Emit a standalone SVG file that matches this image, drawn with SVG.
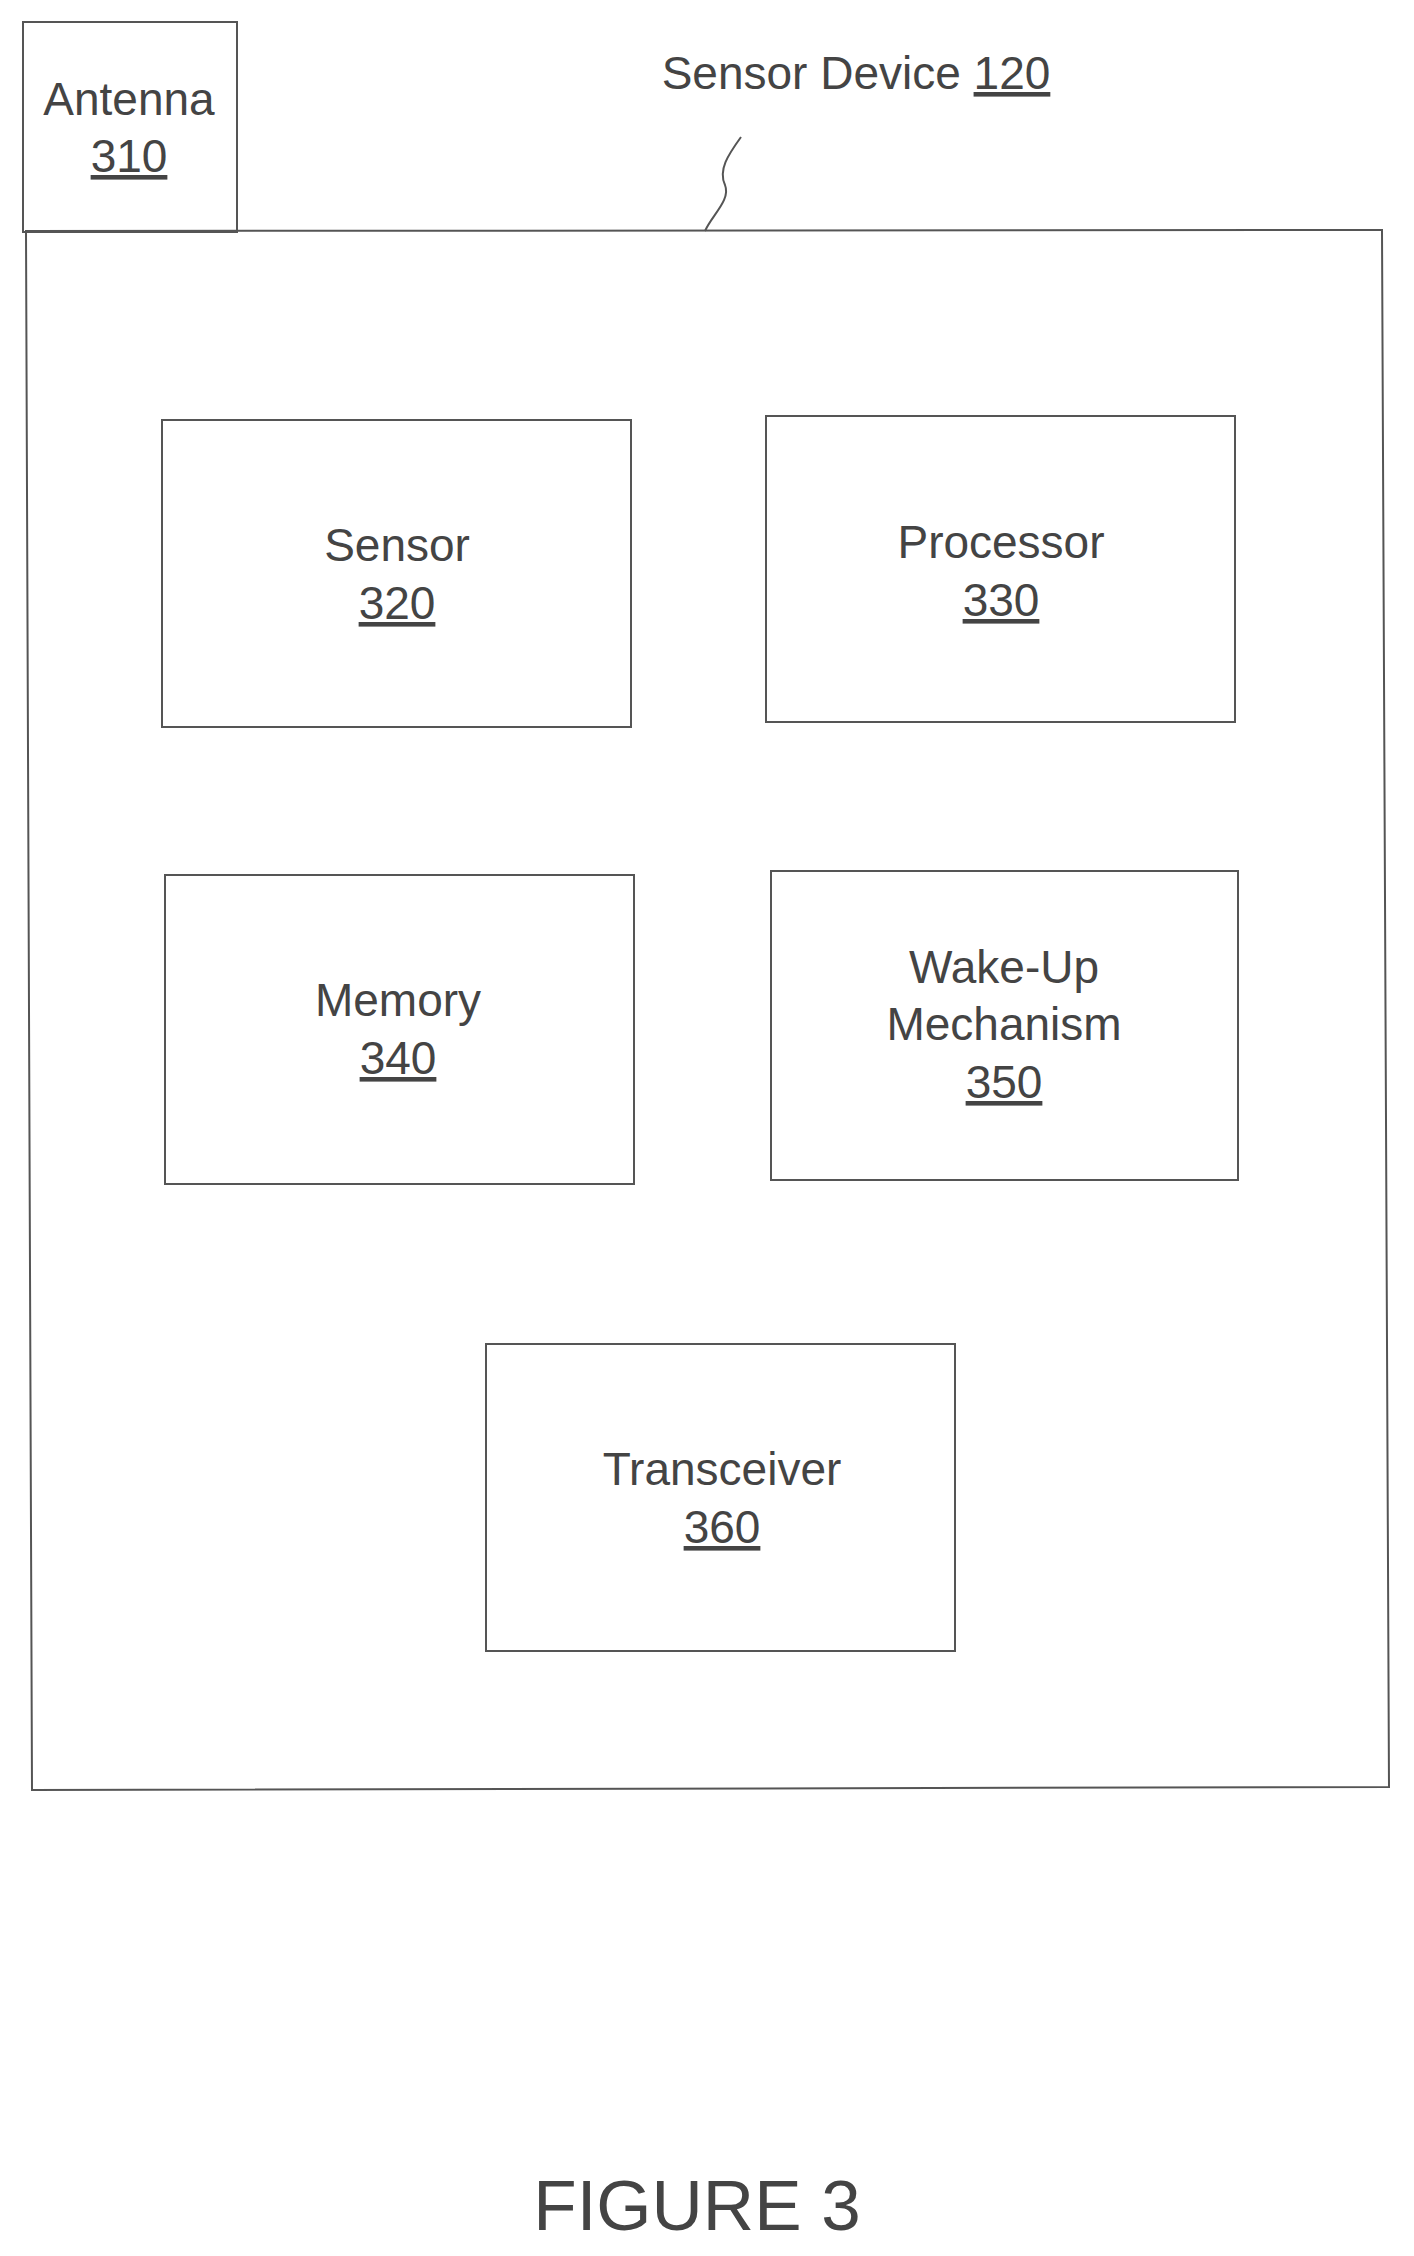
<svg xmlns="http://www.w3.org/2000/svg" width="1414" height="2256" viewBox="0 0 1414 2256">
<style>
rect{fill:none;stroke:#555;stroke-width:2}
text{font-family:"Liberation Sans",Arial,sans-serif;font-size:46px;fill:#444;text-anchor:middle}
.u{text-decoration:underline}
</style>
<rect width="1414" height="2256" style="fill:#fff;stroke:none"/>
<g id="connectors"><path d="M741,137 C728,155 718,170 725,185 C731,200 712,215 705,231" fill="none" stroke="#555" stroke-width="2"/></g>
<g id="device"><path d="M26,231 L1382,230 L1389,1787 L32,1790 Z" fill="none" stroke="#555" stroke-width="2"/>
<text x="856" y="89">Sensor Device <tspan class="u">120</tspan></text></g>
<g id="antenna"><rect x="23" y="22" width="214" height="210"/><text x="129" y="115">Antenna</text><text x="129" y="172" class="u">310</text></g>
<g id="sensor"><rect x="162" y="420" width="469" height="307"/><text x="397" y="561">Sensor</text><text x="397" y="619" class="u">320</text></g>
<g id="processor"><rect x="766" y="416" width="469" height="306"/><text x="1001" y="558">Processor</text><text x="1001" y="616" class="u">330</text></g>
<g id="memory"><rect x="165" y="875" width="469" height="309"/><text x="398" y="1016">Memory</text><text x="398" y="1074" class="u">340</text></g>
<g id="wakeup"><rect x="771" y="871" width="467" height="309"/><text x="1004" y="983">Wake-Up</text><text x="1004" y="1040">Mechanism</text><text x="1004" y="1098" class="u">350</text></g>
<g id="transceiver"><rect x="486" y="1344" width="469" height="307"/><text x="722" y="1485">Transceiver</text><text x="722" y="1543" class="u">360</text></g>
<text x="697" y="2230" style="font-size:71px">FIGURE 3</text>
</svg>
